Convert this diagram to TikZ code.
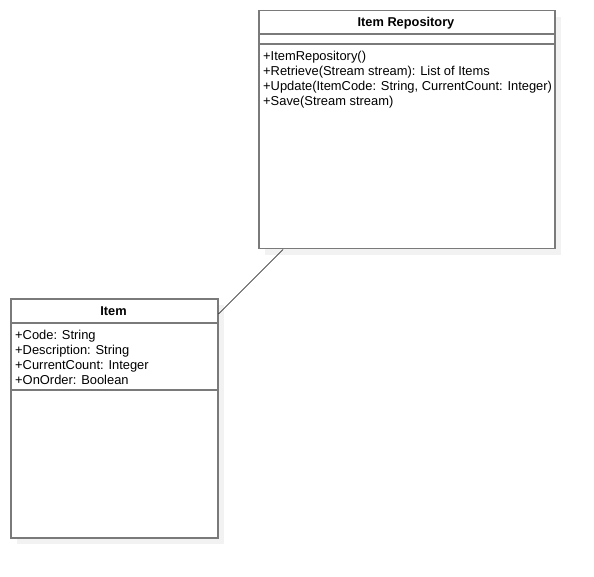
\documentclass[tikz,border=0pt]{standalone}
\usepackage{fontspec}
\setmainfont{Liberation Sans}
\usetikzlibrary{calc}
\definecolor{boxline}{HTML}{7A7A7A}
\definecolor{shadowc}{HTML}{F2F2F2}
\begin{document}
\begin{tikzpicture}[x=1pt,y=-1pt,
  classbox/.style={draw=boxline,line width=1.5pt,fill=white,inner sep=0pt,anchor=north west},
  sep/.style={draw=boxline,line width=1.5pt},
  shadowbox/.style={fill=shadowc},
  title/.style={font=\fontsize{12.8}{15}\selectfont\bfseries,inner sep=0pt},
  members/.style={font=\fontsize{12.9}{15}\selectfont,align=left,anchor=north west,inner sep=0pt},
  assoc/.style={draw=black,line width=0.7pt}]
\useasboundingbox (0,0) rectangle (594,577);
% shadows
\fill[shadowbox] (265,17) rectangle (561,255);
\fill[shadowbox] (17,305) rectangle (224,544);
% Item Repository
\node[classbox,minimum width=296pt,minimum height=238pt] (repo) at (258,10) {};
\draw[sep] (258,34) -- (554,34);
\draw[sep] (258,44) -- (554,44);
\node[title] (repotitle) at (406,23) {Item Repository};
\node[members] (repoops) at (263,51) {+ItemRepository()\\+Retrieve(Stream stream): List of Items\\+Update(ItemCode: String, CurrentCount: Integer)\\+Save(Stream stream)};
% Item
\node[classbox,minimum width=207pt,minimum height=239pt] (item) at (10,298) {};
\draw[sep] (10,323) -- (217,323);
\draw[sep] (10,390) -- (217,390);
\node[title] (itemtitle) at (113.5,311.5) {Item};
\node[members] (itemattrs) at (15,329.5) {+Code: String\\+Description: String\\+CurrentCount: Integer\\+OnOrder: Boolean};
% association
\coordinate (a1) at ($(repo.south west)+(25,0)$);
\coordinate (a2) at ($(item.north east)+(0,16)$);
\draw[assoc] (a1) -- (a2);
\end{tikzpicture}
\end{document}
